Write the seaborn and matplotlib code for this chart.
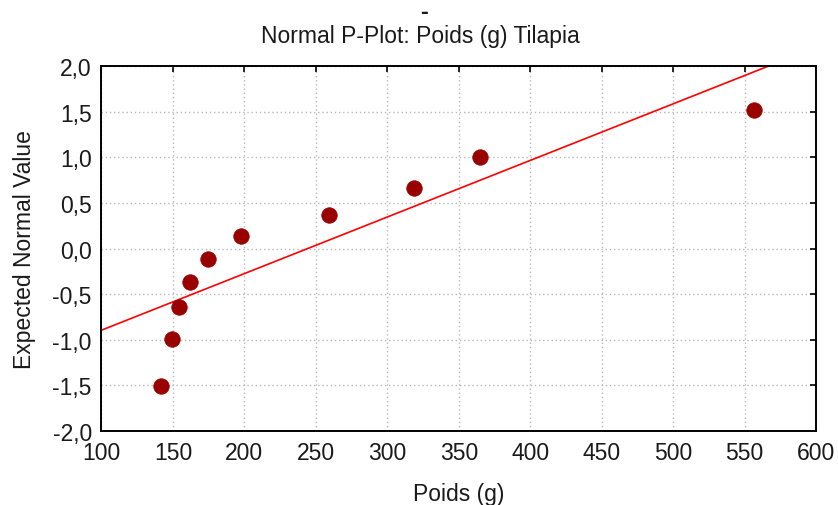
import matplotlib
matplotlib.use("Agg")
import matplotlib.pyplot as plt
import seaborn as sns
import pandas as pd
from matplotlib.ticker import FuncFormatter

# Observed weights (g) and their expected normal scores
poids = [141.4, 149.3, 154.0, 162.0, 174.5, 197.6, 259.0, 318.9, 364.8, 556.8]
expected = [-1.51, -0.99, -0.64, -0.37, -0.11, 0.14, 0.37, 0.66, 1.00, 1.52]

# Reference normal line (end points)
fit_x = [100, 600]
fit_y = [-0.895, 2.205]

x_ticks = [100, 150, 200, 250, 300, 350, 400, 450, 500, 550, 600]
y_ticks = [-2.0, -1.5, -1.0, -0.5, 0.0, 0.5, 1.0, 1.5, 2.0]

df = pd.DataFrame({"Poids (g)": poids, "Expected Normal Value": expected})
line_df = pd.DataFrame({"x": fit_x, "y": fit_y})

sns.set_style("white")
plt.rcParams["font.family"] = ["Liberation Sans", "DejaVu Sans"]

TXT = "#1a1a1a"
FS = 16.5

fig = plt.figure(figsize=(8.38, 5.06), dpi=100)
ax = fig.add_axes([0.1211, 0.1462, 0.9737 - 0.1211, 0.8676 - 0.1462])

sns.lineplot(data=line_df, x="x", y="y", ax=ax, color="#ff0000", linewidth=1.2,
             zorder=2)
sns.scatterplot(data=df, x="Poids (g)", y="Expected Normal Value", ax=ax,
                color="#990000", s=125, edgecolor="#990000", linewidth=0.5,
                zorder=3)

ax.set_xlim(100, 600)
ax.set_ylim(-2.0, 2.0)
ax.set_xticks(x_ticks)
ax.set_yticks(y_ticks)

ax.yaxis.set_major_formatter(FuncFormatter(lambda v, p: f"{v:.1f}".replace(".", ",")))
ax.xaxis.set_major_formatter(FuncFormatter(lambda v, p: f"{v:.0f}"))

ax.grid(True, color="#b8b8b8", linestyle=(0, (1, 2)), linewidth=1.0)
ax.set_axisbelow(True)

for s in ax.spines.values():
    s.set_color("black")
    s.set_linewidth(1.4)

ax.tick_params(direction="in", length=4, width=1.2, colors="black",
               top=True, right=True, labelsize=FS, labelcolor=TXT, pad=7)

ax.set_xlabel("Poids (g)", fontsize=FS, labelpad=13, color=TXT)
ax.set_ylabel("Expected Normal Value", fontsize=FS, labelpad=12, color=TXT)

# Title centred on the figure, baseline about 43 px from the top
fig.text(0.5015, 1 - 43 / 506, "Normal P-Plot: Poids (g) Tilapia",
         ha="center", va="baseline", fontsize=FS, color=TXT)
fig.text(0.506, 1 - 13 / 506, "-", ha="center", va="center", fontsize=17,
         fontweight="bold", color=TXT)

fig.savefig("out.png", dpi=100)
